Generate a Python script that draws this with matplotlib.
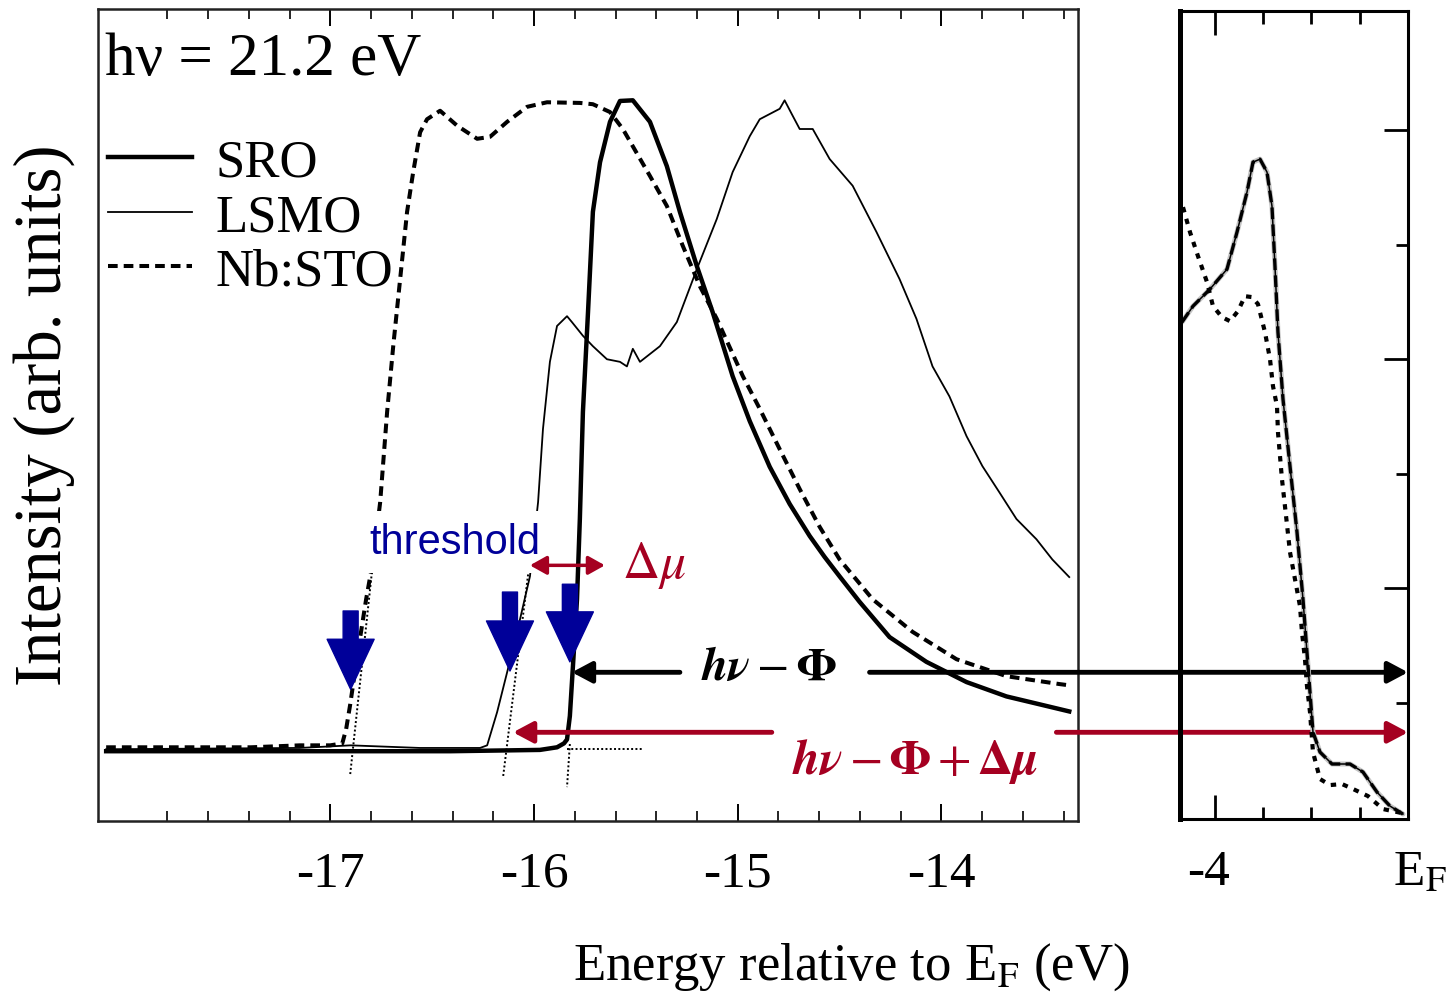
import numpy as np
import matplotlib
matplotlib.use("Agg")
import matplotlib.pyplot as plt
from matplotlib.transforms import blended_transform_factory, ScaledTranslation

plt.rcParams["font.family"] = ["Liberation Serif", "DejaVu Serif"]
plt.rcParams["mathtext.fontset"] = "stix"
plt.rcParams["axes.unicode_minus"] = False

# ---------------------------------------------------------------------------
# Secondary-electron cutoff region (energy in eV, intensity normalised)
# ---------------------------------------------------------------------------
sro_e = [-18.10, -17.15, -16.41, -15.971, -15.887, -15.853, -15.838, -15.824,
         -15.809, -15.789, -15.775, -15.760, -15.735, -15.711, -15.676, -15.627,
         -15.578, -15.515, -15.431, -15.348, -15.284, -15.201, -15.123, -15.025,
         -14.941, -14.843, -14.745, -14.647, -14.574, -14.500, -14.402, -14.255,
         -14.074, -13.877, -13.681, -13.520, -13.373]
sro_i = [0.0, 0.0, 0.0, 0.002, 0.006, 0.012, 0.018, 0.054,
         0.130, 0.233, 0.356, 0.520, 0.673, 0.827, 0.903, 0.965,
         0.997, 0.998, 0.965, 0.897, 0.827, 0.744, 0.673, 0.575,
         0.506, 0.436, 0.379, 0.330, 0.298, 0.268, 0.229, 0.175,
         0.137, 0.106, 0.084, 0.072, 0.061]

lsmo_e = [-18.10, -17.15, -16.90, -16.56, -16.265, -16.230, -16.181, -16.132,
          -16.083, -16.020, -15.980, -15.956, -15.922, -15.887, -15.838, -15.814,
          -15.760, -15.711, -15.642, -15.578, -15.544, -15.515, -15.480, -15.382,
          -15.299, -15.201, -15.103, -15.025, -14.941, -14.892, -14.794, -14.770,
          -14.735, -14.696, -14.632, -14.549, -14.436, -14.319, -14.206, -14.123,
          -14.044, -13.961, -13.877, -13.799, -13.716, -13.632, -13.534, -13.456,
          -13.373]
lsmo_i = [0.003, 0.005, 0.009, 0.005, 0.005, 0.009, 0.060, 0.121,
          0.183, 0.268, 0.382, 0.494, 0.597, 0.652, 0.667, 0.658,
          0.637, 0.621, 0.601, 0.597, 0.590, 0.617, 0.597, 0.621,
          0.658, 0.739, 0.816, 0.888, 0.943, 0.969, 0.985, 0.998,
          0.977, 0.954, 0.954, 0.908, 0.867, 0.796, 0.724, 0.663,
          0.590, 0.544, 0.483, 0.437, 0.397, 0.356, 0.325, 0.294,
          0.267]

nbsto_e = [-18.10, -17.39, -17.15, -17.00, -16.941, -16.922, -16.902, -16.877,
           -16.853, -16.824, -16.789, -16.755, -16.721, -16.691, -16.657, -16.623,
           -16.593, -16.559, -16.525, -16.461, -16.377, -16.279, -16.216, -16.132,
           -16.034, -15.936, -15.775, -15.711, -15.627, -15.564, -15.431, -15.348,
           -15.270, -15.186, -15.103, -14.975, -14.892, -14.794, -14.696, -14.598,
           -14.500, -14.338, -14.142, -13.926, -13.681, -13.422, -13.373]
nbsto_i = [0.006, 0.006, 0.009, 0.009, 0.012, 0.034, 0.072, 0.126,
           0.175, 0.233, 0.294, 0.382, 0.520, 0.621, 0.724, 0.827,
           0.888, 0.949, 0.969, 0.982, 0.959, 0.939, 0.942, 0.965,
           0.988, 0.995, 0.994, 0.992, 0.980, 0.954, 0.882, 0.836,
           0.775, 0.713, 0.663, 0.575, 0.525, 0.463, 0.402, 0.344,
           0.294, 0.233, 0.183, 0.141, 0.115, 0.103, 0.101]

# thresholds (eV) and the linear extrapolations used to find them
thresholds = [-16.90, -16.118, -15.824]
nb_tan_e, nb_tan_i = [-16.789, -16.902], [0.294, -0.035]
lsmo_tan_e, lsmo_tan_i = [-16.029, -16.152], [0.271, -0.040]
sro_tan_e, sro_tan_i = [-15.824, -15.838], [0.011, -0.055]
sro_base_e, sro_base_i = [-15.838, -15.466], [0.003, 0.003]

# ---------------------------------------------------------------------------
# Valence band near E_F (energy in eV, intensity arb.)
# ---------------------------------------------------------------------------
vb_e = [-4.679, -4.451, -4.099, -3.747, -3.540, -3.333, -3.209, -3.064,
        -2.919, -2.816, -2.754, -2.692, -2.588, -2.443, -2.298, -2.174,
        -2.070, -1.967, -1.822, -1.573, -1.201, -0.932, -0.642, -0.373,
        -0.104]
vb_i = [4.324, 4.464, 4.613, 4.787, 5.110, 5.459, 5.721, 5.747,
        5.634, 5.337, 4.813, 4.237, 3.653, 3.068, 2.492, 1.907,
        1.323, 0.747, 0.572, 0.468, 0.468, 0.398, 0.223, 0.101,
        0.031]

vb_nb_e = [-4.658, -4.513, -4.348, -4.161, -4.037, -3.851, -3.685, -3.520,
           -3.375, -3.230, -3.106, -2.961, -2.857, -2.795, -2.712, -2.692,
           -2.609, -2.547, -2.443, -2.340, -2.236, -2.195, -2.133, -2.091,
           -2.029, -1.967, -1.822, -1.615, -1.366, -1.139, -0.828, -0.518,
           -0.228, -0.021]
vb_nb_i = [5.328, 5.110, 4.901, 4.674, 4.464, 4.368, 4.333, 4.421,
           4.551, 4.543, 4.482, 4.237, 4.002, 3.766, 3.591, 3.364,
           2.954, 2.718, 2.317, 2.082, 1.846, 1.619, 1.384, 1.148,
           0.921, 0.572, 0.337, 0.284, 0.293, 0.250, 0.188, 0.075,
           0.049, 0.031]

BLUE = "#000099"
RED = "#A50021"
NB_DASH = (2.4, 1.5)

W, H = 1452, 995
fig = plt.figure(figsize=(W / 100, H / 100), dpi=100)
ax = fig.add_axes([98 / W, 1 - 822 / H, 980 / W, 812 / H])
axr = fig.add_axes([1180 / W, 1 - 820 / H, 228 / W, 808 / H])
axr.set_facecolor("none")  # let the energy arrows show through

# --- left panel -------------------------------------------------------------
ax.plot(sro_e, sro_i, color="black", lw=3.2, label="SRO")
ax.plot(lsmo_e, lsmo_i, color="black", lw=1.3, label="LSMO")
ax.plot(nbsto_e, nbsto_i, color="black", lw=2.9, dashes=NB_DASH, label="Nb:STO")

for te, ti in [(nb_tan_e, nb_tan_i), (lsmo_tan_e, lsmo_tan_i),
               (sro_tan_e, sro_tan_i), (sro_base_e, sro_base_i)]:
    ax.plot(te, ti, color="black", lw=1.4, ls=(0, (1, 1.2)))

ax.set_xlim(-18.14, -13.33)
ax.set_ylim(-0.107, 1.138)
ax.set_xticks([-17, -16, -15, -14])
ax.set_xticklabels(["-17", "-16", "-15", "-14"])
minor = [v for v in np.round(np.arange(-18.0, -13.3, 0.2), 1) if v % 1 != 0]
ax.set_xticks(minor, minor=True)
ax.set_yticks([])
ax.tick_params(which="both", direction="in", top=True, bottom=True,
               left=False, right=False)
ax.tick_params(which="major", length=12, width=1.4, labelsize=37, pad=21)
ax.tick_params(which="minor", length=7, width=1.2)
for s in ax.spines.values():
    s.set_linewidth(1.8)
    s.set_color("#222222")

ax.text(0.007, 0.92, "hν = 21.2 eV", transform=ax.transAxes, fontsize=44,
        ha="left", va="baseline")
ax.legend(loc="upper left", bbox_to_anchor=(0.01, 0.84), frameon=False,
          fontsize=38, handlelength=1.6, handletextpad=0.45, labelspacing=0.12,
          borderpad=0, borderaxespad=0)

# threshold arrows
for e, tip, tail in zip(thresholds, [0.095, 0.123, 0.137], [0.215, 0.244, 0.256]):
    ax.annotate("", xy=(e, tip), xytext=(e, tail),
                arrowprops=dict(arrowstyle="simple,head_length=1.0,head_width=0.94,tail_width=0.3",
                                color=BLUE, mutation_scale=36, shrinkA=0, shrinkB=0),
                zorder=6)
ax.text(-16.387, 0.321, "threshold", fontfamily="Liberation Sans", fontsize=30,
        color=BLUE, ha="center", va="center", zorder=5,
        bbox=dict(facecolor="white", edgecolor="none", pad=8))

# delta mu
ax.annotate("", xy=(-16.02, 0.285), xytext=(-15.652, 0.285),
            arrowprops=dict(arrowstyle="<|-|>,head_length=0.5,head_width=0.28",
                            lw=2.5, color=RED, mutation_scale=20, shrinkA=0, shrinkB=0),
            zorder=7)
ax.text(-15.412, 0.286, r"$\Delta\mu$", color=RED, fontsize=37,
        ha="center", va="center")

# --- right panel ------------------------------------------------------------
axr.plot(vb_e, vb_i, color="#c4c4c4", lw=3.6, solid_capstyle="round")
axr.plot(vb_e, vb_i, color="black", lw=1.1)
axr.plot(vb_e, vb_i, color="black", lw=2.4, dashes=(3.5, 1.6))
axr.plot(vb_nb_e, vb_nb_i, color="black", lw=3.0, dashes=(1.3, 1.6))

axr.set_xlim(-4.72, 0)
axr.set_ylim(-0.012, 7.04)
axr.set_xticks([-4, 0])
axr.set_xticklabels(["-4", r"E$_\mathrm{F}$"])
axr.set_xticks([-3, -2, -1], minor=True)
axr.set_yticks([2, 4, 6])
axr.set_yticks([1, 3, 5], minor=True)
axr.tick_params(which="both", direction="in", top=True, bottom=True, right=True,
                left=False, labelleft=False, labelright=False)
axr.tick_params(which="major", length=17, width=2.0, labelsize=37, pad=21)
axr.tick_params(which="minor", length=9, width=2.0)
for name, s in axr.spines.items():
    s.set_linewidth(3.6 if name == "left" else 2.2)
    s.set_color("black")
# E_F label sits a little right of the axis end in the original
ef_lbl = axr.xaxis.get_major_ticks()[1].label1
ef_lbl.set_transform(ef_lbl.get_transform() + ScaledTranslation(0.12, 0, fig.dpi_scale_trans))
m4_lbl = axr.xaxis.get_major_ticks()[0].label1
m4_lbl.set_transform(m4_lbl.get_transform() + ScaledTranslation(-0.06, 0, fig.dpi_scale_trans))

# --- energy arrows spanning both panels -------------------------------------
to_ef = blended_transform_factory(axr.transData, ax.transData)
head = "-|>,head_length=0.6,head_width=0.32"

y_blk = 0.121
ax.annotate("", xy=(thresholds[2] + 0.01, y_blk), xytext=(-15.284, y_blk),
            arrowprops=dict(arrowstyle=head, lw=3.5, color="black",
                            mutation_scale=20, shrinkA=0, shrinkB=0))
ax.annotate("", xy=(0, y_blk), xycoords=to_ef, xytext=(-14.353, y_blk),
            textcoords="data", annotation_clip=False,
            arrowprops=dict(arrowstyle=head, lw=3.5, color="black",
                            mutation_scale=20, shrinkA=0, shrinkB=0))
ax.text(-14.848, 0.128, r"$\mathbfit{h\nu}-\mathbf{\Phi}$", fontsize=34,
        ha="center", va="center", color="black")

y_red = 0.029
ax.annotate("", xy=(-16.103, y_red), xytext=(-14.833, y_red),
            arrowprops=dict(arrowstyle=head, lw=3.5, color=RED,
                            mutation_scale=20, shrinkA=0, shrinkB=0))
ax.annotate("", xy=(0, y_red), xycoords=to_ef, xytext=(-13.436, y_red),
            textcoords="data", annotation_clip=False,
            arrowprops=dict(arrowstyle=head, lw=3.5, color=RED,
                            mutation_scale=20, shrinkA=0, shrinkB=0))
ax.text(-14.127, -0.015, r"$\mathbfit{h\nu}-\mathbf{\Phi}+\mathbf{\Delta}\mathbfit{\mu}$",
        fontsize=35, ha="center", va="center", color=RED)

# --- axis titles -------------------------------------------------------------
fig.text(44 / W, 1 - 415 / H, "Intensity (arb. units)", rotation=90,
         ha="center", va="center", fontsize=48)
fig.text(851 / W, 1 - 967 / H, r"Energy relative to E$_\mathrm{F}$ (eV)",
         ha="center", va="center", fontsize=38)

fig.savefig("out.png", dpi=100)
